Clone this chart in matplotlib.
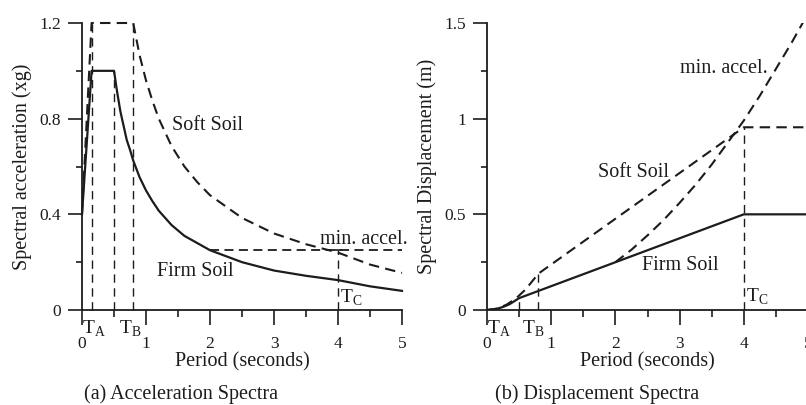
import numpy as np
import matplotlib
matplotlib.use("Agg")
import matplotlib.pyplot as plt

# ---- data ----
# (a) acceleration spectra
T_firm_acc = [0.0, 0.15, 0.5, 0.55, 0.6, 0.65, 0.7, 0.75, 0.8, 0.9, 1.0, 1.1, 1.2, 1.4, 1.6, 1.8, 2.0, 2.5, 3.0, 3.5, 4.0, 4.5, 5.0]
Sa_firm = [0.40, 1.00, 1.00, 0.91, 0.83, 0.77, 0.71, 0.67, 0.625, 0.555, 0.50, 0.455, 0.415, 0.355, 0.31, 0.28, 0.25, 0.20, 0.165, 0.143, 0.125, 0.099, 0.08]

T_soft_acc = [0.0, 0.15, 0.8, 0.9, 1.0, 1.1, 1.2, 1.4, 1.6, 1.8, 2.0, 2.5, 3.0, 3.5, 4.0, 4.5, 5.0]
Sa_soft = [0.40, 1.20, 1.20, 1.065, 0.96, 0.875, 0.80, 0.685, 0.60, 0.535, 0.48, 0.385, 0.32, 0.275, 0.24, 0.19, 0.155]

T_min_acc = [2.0, 5.0]
Sa_min = [0.25, 0.25]

vline_T_acc = [0.15, 0.5, 0.8, 4.0]
vline_top_acc = [1.2, 1.0, 1.2, 0.25]

# (b) displacement spectra
T_firm_disp = [0.0, 0.15, 0.25, 0.35, 0.5, 4.0, 5.0]
Sd_firm = [0.0, 0.006, 0.016, 0.03, 0.062, 0.50, 0.50]

T_soft_disp = [0.0, 0.15, 0.3, 0.45, 0.6, 0.8, 4.0, 5.0]
Sd_soft = [0.0, 0.007, 0.027, 0.06, 0.107, 0.19, 0.955, 0.955]

T_min_disp = [2.0, 2.25, 2.5, 2.75, 3.0, 3.25, 3.5, 3.75, 4.0, 4.25, 4.5, 4.75, 5.0]
Sd_min = [0.25, 0.315, 0.39, 0.47, 0.56, 0.655, 0.76, 0.875, 0.99, 1.12, 1.26, 1.40, 1.55]

vline_T_disp = [0.5, 0.8, 4.0]
vline_top_disp = [0.062, 0.19, 0.955]

plt.rcParams["font.family"] = ["Liberation Serif", "DejaVu Serif"]
plt.rcParams["mathtext.fontset"] = "custom"
plt.rcParams["mathtext.rm"] = "Liberation Serif"
plt.rcParams["font.size"] = 14.5

INK = "#1c1c1c"
LABEL = 14.5
TICK = 12.5
dash_curve = (0, (5, 3))
dash_thin = (0, (6, 4))

fig = plt.figure(figsize=(8.06, 4.05), dpi=100)
ax1 = fig.add_axes([82 / 806, 95 / 405, 320 / 806, 287 / 405])
ax2 = fig.add_axes([487 / 806, 95 / 405, 321 / 806, 287 / 405])


def style_axes(ax):
    for s in ["top", "right"]:
        ax.spines[s].set_visible(False)
    for s in ["left", "bottom"]:
        ax.spines[s].set_linewidth(1.3)
        ax.spines[s].set_color(INK)
    ax.set_xlim(0, 5)
    ax.set_xticks([0, 1, 2, 3, 4, 5])
    ax.set_xticks([0.5, 1.5, 2.5, 3.5, 4.5], minor=True)
    ax.tick_params(axis="x", which="major", direction="out", length=11, width=1.2, pad=8,
                   colors=INK, labelsize=TICK)
    ax.tick_params(axis="x", which="minor", direction="out", length=5, width=1.2, colors=INK)
    ax.tick_params(axis="y", which="major", direction="out", length=10, width=1.2, pad=5,
                   colors=INK, labelsize=TICK)
    ax.tick_params(axis="y", which="minor", direction="out", length=4, width=1.2, colors=INK)
    ax.set_xlabel("Period (seconds)", labelpad=0, color=INK, fontsize=LABEL)


# ---- (a) acceleration ----
style_axes(ax1)
ax1.set_ylim(0, 1.2)
ax1.set_yticks([0, 0.4, 0.8, 1.2])
ax1.set_yticklabels(["0", "0.4", "0.8", "1.2"])
ax1.set_yticks([0.2, 0.6, 1.0], minor=True)
ax1.set_ylabel("Spectral acceleration (xg)", color=INK, fontsize=LABEL)
ax1.yaxis.set_label_coords(-0.156, 0.5)

ax1.plot(T_firm_acc, Sa_firm, color=INK, lw=1.6, clip_on=False)
ax1.plot(T_soft_acc, Sa_soft, color=INK, lw=1.5, ls=dash_curve, clip_on=False)
ax1.plot(T_min_acc, Sa_min, color=INK, lw=1.3, ls=dash_curve, clip_on=False)
for t, top in zip(vline_T_acc, vline_top_acc):
    ax1.plot([t, t], [0, top], color=INK, lw=1.0, ls=dash_thin, clip_on=False)
ax1.plot([4.0], [0.25], marker="_", color=INK, ms=6, mew=1.2)

ax1.text(1.40, 0.77, "Soft Soil", ha="left", va="center", color=INK, fontsize=LABEL)
ax1.text(1.17, 0.16, "Firm Soil", ha="left", va="center", color=INK, fontsize=LABEL)
ax1.text(3.72, 0.295, "min. accel.", ha="left", va="center", color=INK, fontsize=LABEL)
ax1.text(0.0, -0.035, r"$\mathrm{T}_\mathrm{A}$", ha="left", va="top", color=INK, fontsize=14)
ax1.text(0.58, -0.035, r"$\mathrm{T}_\mathrm{B}$", ha="left", va="top", color=INK, fontsize=14)
ax1.text(4.03, 0.008, r"$\mathrm{T}_\mathrm{C}$", ha="left", va="bottom", color=INK, fontsize=14)

# ---- (b) displacement ----
style_axes(ax2)
ax2.set_ylim(0, 1.5)
ax2.set_yticks([0, 0.5, 1.0, 1.5])
ax2.set_yticklabels(["0", "0.5", "1", "1.5"])
ax2.set_yticks([0.25, 0.75, 1.25], minor=True)
ax2.set_ylabel("Spectral Displacement (m)", color=INK, fontsize=LABEL)
ax2.yaxis.set_label_coords(-0.156, 0.5)

ax2.plot(T_firm_disp, Sd_firm, color=INK, lw=1.6)
ax2.plot(T_soft_disp, Sd_soft, color=INK, lw=1.5, ls=dash_curve)
ax2.plot(T_min_disp, Sd_min, color=INK, lw=1.5, ls=dash_curve)
for t, top in zip(vline_T_disp, vline_top_disp):
    ax2.plot([t, t], [0, top], color=INK, lw=1.0, ls=dash_thin)

ax2.text(3.0, 1.26, "min. accel.", ha="left", va="center", color=INK, fontsize=LABEL)
ax2.text(1.73, 0.72, "Soft Soil", ha="left", va="center", color=INK, fontsize=LABEL)
ax2.text(2.41, 0.235, "Firm Soil", ha="left", va="center", color=INK, fontsize=LABEL)
ax2.text(0.0, -0.045, r"$\mathrm{T}_\mathrm{A}$", ha="left", va="top", color=INK, fontsize=14)
ax2.text(0.54, -0.045, r"$\mathrm{T}_\mathrm{B}$", ha="left", va="top", color=INK, fontsize=14)
ax2.text(4.04, 0.015, r"$\mathrm{T}_\mathrm{C}$", ha="left", va="bottom", color=INK, fontsize=14)

fig.text(181 / 806, 1 - 394 / 405, "(a) Acceleration Spectra", ha="center", va="center",
         color=INK, fontsize=LABEL)
fig.text(597 / 806, 1 - 394 / 405, "(b) Displacement Spectra", ha="center", va="center",
         color=INK, fontsize=LABEL)

fig.savefig("out.png", dpi=100)
